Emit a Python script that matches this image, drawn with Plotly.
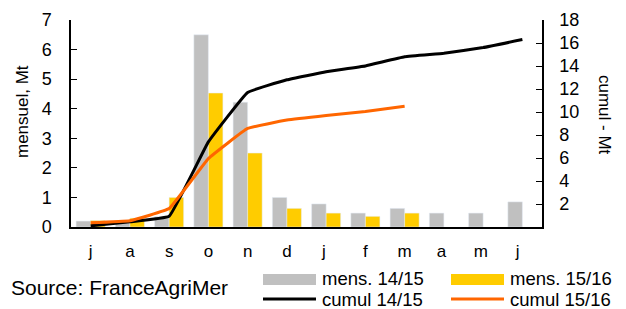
import plotly.graph_objects as go

months = ["j", "a", "s", "o", "n", "d", "j ", "f", "m", "a ", "m ", "j  "]
mens_1415 = [0.2, 0.15, 0.35, 6.5, 4.22, 1.0, 0.78, 0.47, 0.63, 0.47, 0.47, 0.85]
mens_1516 = [0.22, 0.3, 1.0, 4.53, 2.5, 0.63, 0.47, 0.36, 0.47, None, None, None]
cumul_1415 = [0.1, 0.45, 0.93, 7.4, 11.7, 12.8, 13.5, 14.0, 14.8, 15.1, 15.6, 16.3]
cumul_1516 = [0.37, 0.55, 1.6, 5.95, 8.57, 9.3, 9.7, 10.05, 10.5, None, None, None]
left_ticks = [0, 1, 2, 3, 4, 5, 6, 7]
right_ticks = [2, 4, 6, 8, 10, 12, 14, 16, 18]
names = ["mens. 14/15", "mens. 15/16", "cumul 14/15", "cumul 15/16"]

GRAY = "#C0C0C0"
YELLOW = "#FFCC00"
BLACK = "#000000"
ORANGE = "#FF6600"
FONT = "Liberation Sans, Arial, sans-serif"

W, H = 626, 309
L, R, T, B = 71, 542, 20, 227

fig = go.Figure()
fig.add_bar(x=months, y=mens_1415, marker_color=GRAY, name=names[0], yaxis="y")
fig.add_bar(x=months, y=mens_1516, marker_color=YELLOW, name=names[1], yaxis="y")
fig.add_scatter(x=months, y=cumul_1415, mode="lines", line=dict(color=BLACK, width=3, shape="spline", smoothing=0.25),
                name=names[2], yaxis="y2")
fig.add_scatter(x=months, y=cumul_1516, mode="lines", line=dict(color=ORANGE, width=3, shape="spline", smoothing=0.25),
                name=names[3], yaxis="y2")

fig.update_layout(
    width=W, height=H,
    margin=dict(l=L, r=W - R, t=T, b=H - B, autoexpand=False),
    paper_bgcolor="white", plot_bgcolor="white",
    font=dict(family=FONT, size=16, color="black"),
    showlegend=False,
    barmode="group", bargap=0.26, bargroupgap=0,
    xaxis=dict(showline=True, linecolor="black", linewidth=1.5, ticks="", showgrid=False,
               tickfont=dict(size=17), ticklabelstandoff=8, zeroline=False, automargin=False),
    yaxis=dict(range=[0, 7], tickvals=left_ticks, showline=True, linecolor="black", linewidth=1.5,
               ticks="inside", ticklen=6, tickcolor="black", showgrid=False, zeroline=False,
               tickfont=dict(size=18), ticklabelstandoff=14, automargin=False),
    yaxis2=dict(range=[0, 18], tickvals=right_ticks, overlaying="y", side="right", showline=True,
                linecolor="black", linewidth=1.5, ticks="inside", ticklen=6, tickcolor="black",
                showgrid=False, zeroline=False, tickfont=dict(size=18), ticklabelstandoff=12,
                automargin=False),
)


def px(x, y):
    return (x - L) / (R - L), (B - y) / (B - T)


annotations = [
    dict(text="mensuel, Mt", x=22, y=112, textangle=-90, font=dict(size=17)),
    dict(text="cumul - Mt", x=605, y=115, textangle=90, font=dict(size=17)),
    dict(text="Source: FranceAgriMer", x=9, y=287, xanchor="left", font=dict(size=21)),
    dict(text=names[0], x=320, y=278, xanchor="left", font=dict(size=18.5)),
    dict(text=names[1], x=508, y=278, xanchor="left", font=dict(size=18.5)),
    dict(text=names[2], x=320, y=299, xanchor="left", font=dict(size=18.5)),
    dict(text=names[3], x=508, y=299, xanchor="left", font=dict(size=18.5)),
]
for a in annotations:
    ax, ay = px(a["x"], a["y"])
    fig.add_annotation(xref="paper", yref="paper", x=ax, y=ay,
                       text=a["text"], showarrow=False, textangle=a.get("textangle", 0),
                       xanchor=a.get("xanchor", "center"), yanchor="middle", font=a["font"])

for (x0, y0, x1, y1, col) in [(263, 274, 316, 285, GRAY), (451, 274, 504, 285, YELLOW)]:
    a0, b0 = px(x0, y1)
    a1, b1 = px(x1, y0)
    fig.add_shape(type="rect", xref="paper", yref="paper", x0=a0, y0=b0, x1=a1, y1=b1,
                  fillcolor=col, line=dict(width=0))
for (x0, x1, y, col) in [(263, 316, 299, BLACK), (451, 504, 299, ORANGE)]:
    a0, b = px(x0, y)
    a1, _ = px(x1, y)
    fig.add_shape(type="line", xref="paper", yref="paper", x0=a0, y0=b, x1=a1, y1=b,
                  line=dict(color=col, width=3))

fig.write_html("out.html", config={"displayModeBar": False},
               post_script="document.body.style.margin='0';document.body.style.overflow='hidden';")
